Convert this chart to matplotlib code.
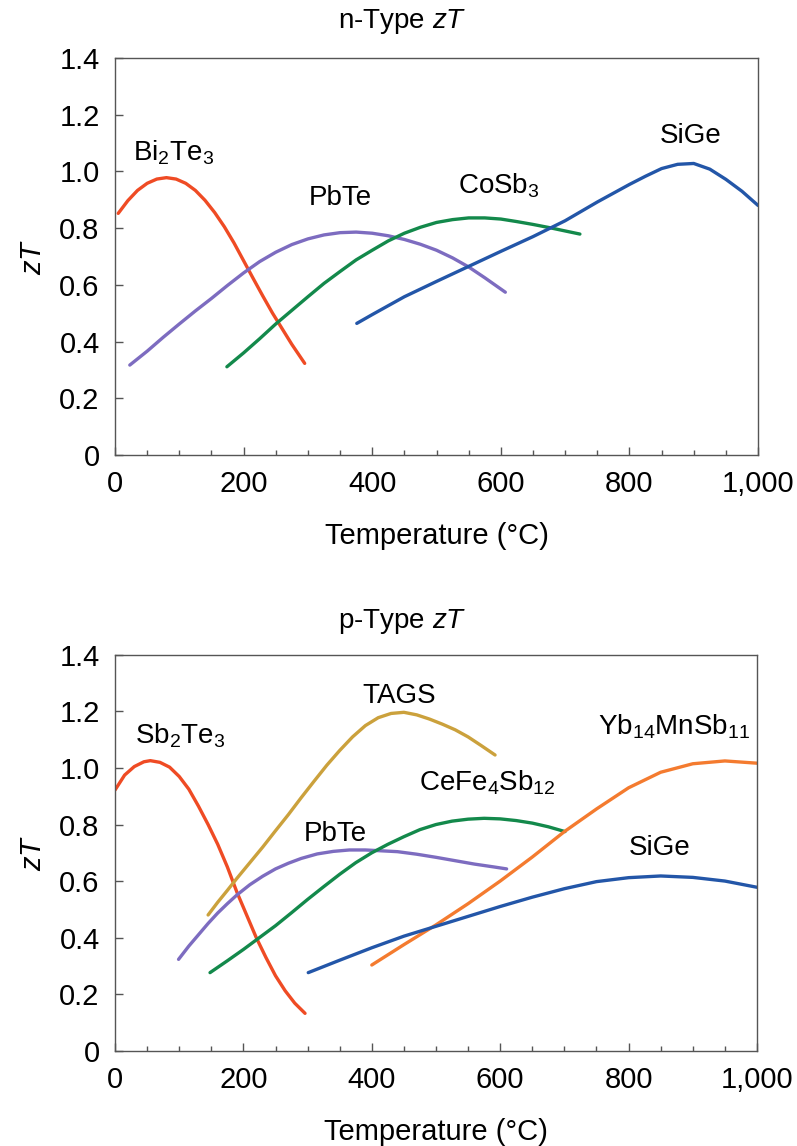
import matplotlib.pyplot as plt
from matplotlib.ticker import MultipleLocator, FuncFormatter

plt.rcParams['font.family'] = ['Liberation Sans', 'DejaVu Sans']
plt.rcParams['mathtext.fontset'] = 'custom'
plt.rcParams['mathtext.rm'] = 'Liberation Sans'
plt.rcParams['mathtext.it'] = 'Liberation Sans:italic'

# n-type curves (temperature in C, zT)
n_bi2te3_t = [5, 20, 35, 50, 65, 80, 95, 110, 125, 140, 155, 170, 185, 200, 215, 230, 245, 260, 275, 295]
n_bi2te3_z = [0.852, 0.897, 0.933, 0.958, 0.973, 0.978, 0.973, 0.958, 0.933, 0.898, 0.855, 0.805,
              0.748, 0.685, 0.622, 0.560, 0.500, 0.445, 0.390, 0.323]

n_pbte_t = [23, 50, 75, 100, 125, 150, 175, 200, 225, 250, 275, 300, 325, 350, 375, 400,
            425, 450, 475, 500, 525, 550, 575, 607]
n_pbte_z = [0.317, 0.366, 0.415, 0.462, 0.508, 0.552, 0.598, 0.642, 0.682, 0.715, 0.742, 0.762,
            0.776, 0.784, 0.786, 0.782, 0.773, 0.760, 0.743, 0.722, 0.695, 0.663, 0.625, 0.574]

n_cosb3_t = [174, 200, 225, 250, 275, 300, 325, 350, 375, 400, 425, 450, 475, 500, 525, 550,
             575, 600, 625, 650, 675, 700, 723]
n_cosb3_z = [0.311, 0.360, 0.410, 0.462, 0.510, 0.558, 0.605, 0.647, 0.688, 0.722, 0.755, 0.782,
             0.803, 0.820, 0.830, 0.836, 0.836, 0.832, 0.823, 0.813, 0.802, 0.790, 0.779]

n_sige_t = [376, 400, 450, 500, 550, 600, 650, 700, 750, 800, 825, 850, 875, 900, 925, 950, 975, 1000]
n_sige_z = [0.464, 0.495, 0.558, 0.612, 0.665, 0.718, 0.770, 0.826, 0.892, 0.954, 0.983, 1.010,
            1.025, 1.028, 1.008, 0.972, 0.930, 0.880]

# p-type curves
p_sb2te3_t = [0, 15, 30, 45, 55, 70, 85, 100, 115, 130, 145, 160, 175, 190, 205, 220, 235,
              250, 265, 280, 296]
p_sb2te3_z = [0.922, 0.975, 1.005, 1.022, 1.026, 1.020, 1.003, 0.970, 0.925, 0.865, 0.800, 0.730,
              0.650, 0.560, 0.480, 0.400, 0.330, 0.265, 0.212, 0.168, 0.132]

p_tags_t = [145, 160, 175, 190, 210, 230, 250, 270, 290, 310, 330, 350, 370, 390, 410, 430,
            450, 470, 490, 510, 530, 550, 570, 592]
p_tags_z = [0.480, 0.525, 0.567, 0.610, 0.665, 0.720, 0.778, 0.835, 0.895, 0.953, 1.010, 1.062,
            1.110, 1.150, 1.178, 1.193, 1.197, 1.188, 1.173, 1.155, 1.135, 1.110, 1.080, 1.046]

p_pbte_t = [99, 115, 130, 145, 160, 175, 190, 210, 230, 250, 270, 290, 315, 340, 365, 390,
            415, 440, 470, 500, 530, 560, 590, 610]
p_pbte_z = [0.323, 0.370, 0.410, 0.450, 0.487, 0.520, 0.551, 0.587, 0.617, 0.643, 0.663, 0.680,
            0.696, 0.705, 0.710, 0.710, 0.707, 0.704, 0.695, 0.684, 0.672, 0.660, 0.650, 0.643]

p_cefe_t = [148, 175, 200, 225, 250, 275, 300, 325, 350, 375, 400, 425, 450, 475, 500, 525,
            550, 575, 600, 625, 650, 675, 701]
p_cefe_z = [0.276, 0.318, 0.358, 0.400, 0.442, 0.488, 0.535, 0.580, 0.624, 0.665, 0.700, 0.730,
            0.757, 0.782, 0.800, 0.812, 0.819, 0.822, 0.820, 0.814, 0.805, 0.792, 0.775]

p_yb_t = [400, 450, 500, 550, 600, 650, 700, 750, 800, 850, 900, 950, 1000]
p_yb_z = [0.303, 0.375, 0.445, 0.520, 0.600, 0.685, 0.775, 0.855, 0.930, 0.985, 1.015, 1.025, 1.017]

p_sige_t = [301, 350, 400, 450, 500, 550, 600, 650, 700, 750, 800, 850, 900, 950, 1000]
p_sige_z = [0.276, 0.320, 0.364, 0.405, 0.440, 0.475, 0.510, 0.543, 0.573, 0.598, 0.612, 0.618,
            0.613, 0.600, 0.578]

RED = '#ef4b24'
PURPLE = '#7d6cc0'
GREEN = '#13894b'
BLUE = '#2356a8'
GOLD = '#cba13c'
ORANGE = '#f47b2f'

fig = plt.figure(figsize=(7.97, 11.46), dpi=100)
ax1 = fig.add_axes([0.1443, 0.6030, 0.8068, 0.3464])
ax2 = fig.add_axes([0.1443, 0.0832, 0.8055, 0.3453])

FS = 21


def style(ax):
    ax.set_xlim(0, 1000)
    ax.set_ylim(0, 1.4)
    ax.xaxis.set_major_locator(MultipleLocator(200))
    ax.xaxis.set_minor_locator(MultipleLocator(50))
    ax.yaxis.set_major_locator(MultipleLocator(0.2))
    ax.xaxis.set_major_formatter(FuncFormatter(lambda v, p: f'{int(v):,}'))
    ax.yaxis.set_major_formatter(FuncFormatter(lambda v, p: '0' if v == 0 else f'{v:.1f}'))
    ax.tick_params(which='both', direction='in', colors='#555555', labelcolor='black',
                   labelsize=FS, top=False, right=False, width=1.0)
    ax.tick_params(which='major', length=6)
    ax.tick_params(which='minor', length=3.5)
    ax.tick_params(axis='y', pad=11)
    ax.tick_params(axis='x', pad=11)
    for s in ax.spines.values():
        s.set_color('#555555')
        s.set_linewidth(1.0)
    ax.set_xlabel('Temperature (°C)', fontsize=FS, labelpad=17)
    ax.set_ylabel('$zT$', fontsize=FS, labelpad=9)


kw = dict(lw=2.4, solid_capstyle='round', solid_joinstyle='round')

ax1.plot(n_bi2te3_t, n_bi2te3_z, color=RED, **kw)
ax1.plot(n_pbte_t, n_pbte_z, color=PURPLE, **kw)
ax1.plot(n_cosb3_t, n_cosb3_z, color=GREEN, **kw)
ax1.plot(n_sige_t, n_sige_z, color=BLUE, **kw)
style(ax1)
ax1.text(28, 1.040, 'Bi$_2$Te$_3$', fontsize=FS - 1)
ax1.text(301, 0.882, 'PbTe', fontsize=FS - 1)
ax1.text(533, 0.923, 'CoSb$_3$', fontsize=FS - 1)
ax1.text(847, 1.099, 'SiGe', fontsize=FS - 1)

ax2.plot(p_sb2te3_t, p_sb2te3_z, color=RED, **kw)
ax2.plot(p_tags_t, p_tags_z, color=GOLD, **kw)
ax2.plot(p_pbte_t, p_pbte_z, color=PURPLE, **kw)
ax2.plot(p_cefe_t, p_cefe_z, color=GREEN, **kw)
ax2.plot(p_yb_t, p_yb_z, color=ORANGE, **kw)
ax2.plot(p_sige_t, p_sige_z, color=BLUE, **kw)
style(ax2)
ax2.text(31, 1.088, 'Sb$_2$Te$_3$', fontsize=FS - 1)
ax2.text(386, 1.229, 'TAGS', fontsize=FS - 1)
ax2.text(294, 0.743, 'PbTe', fontsize=FS - 1)
ax2.text(474, 0.922, 'CeFe$_4$Sb$_{12}$', fontsize=FS - 1)
ax2.text(753, 1.117, 'Yb$_{14}$MnSb$_{11}$', fontsize=FS - 1)
ax2.text(801, 0.692, 'SiGe', fontsize=FS - 1)

fig.text(402 / 797, 1 - 22 / 1146, 'n-Type $zT$', fontsize=FS - 1, ha='center', va='center')
fig.text(402 / 797, 1 - 622 / 1146, 'p-Type $zT$', fontsize=FS - 1, ha='center', va='center')

fig.savefig('out.png', dpi=100)
